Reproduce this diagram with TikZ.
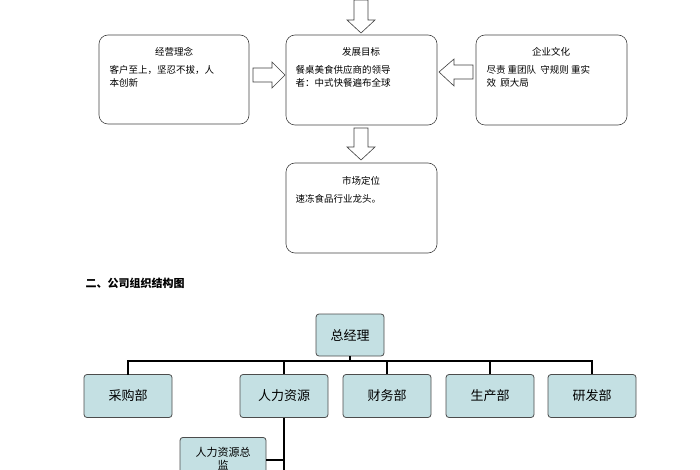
\documentclass[tikz,border=0pt]{standalone}
\usepackage{fontspec}
\setmainfont{Noto Sans CJK SC}
\definecolor{orgfill}{HTML}{C4E0E3}
\begin{document}
\begin{tikzpicture}[x=1pt,y=-1pt,
  rbox/.style={draw=black!75,line width=0.6pt,rounded corners=9pt},
  org/.style={draw=black!70,fill=orgfill,line width=0.8pt,rounded corners=3pt,font=\fontsize{13}{14}\selectfont},
  barrow/.style={draw=black!75,line width=0.6pt,fill=white},
  txt/.style={font=\fontsize{9.5}{13}\selectfont,anchor=north west,align=left}]
\useasboundingbox (0,0) rectangle (700,470);
\clip (0,0) rectangle (700,470);
% top flow boxes
\draw[rbox] (99,35) rectangle (249,124);
\draw[rbox] (286,35) rectangle (437,125);
\draw[rbox] (476,35) rectangle (627,125);
\draw[rbox] (286,163) rectangle (437,253);
\node (a) at (174,52) {\fontsize{9.5}{11}\selectfont 经营理念};
\node[txt] (a2) at (106,62) {客户至上，坚忍不拔，人\\本创新};
\node (b) at (361,52) {\fontsize{9.5}{11}\selectfont 发展目标};
\node[txt] (b2) at (292,62) {餐桌美食供应商的领导\\者：中式快餐遍布全球};
\node (c) at (551,52) {\fontsize{9.5}{11}\selectfont 企业文化};
\node[txt] (c2) at (483,62) {尽责\ 重团队\ \ 守规则\ 重实\\效\ \ 顾大局};
\node (d) at (361,181) {\fontsize{9.5}{11}\selectfont 市场定位};
\node[txt] (d2) at (292,191) {速冻食品行业龙头。};
% block arrows
\draw[barrow] (354,0)--(368,0)--(368,20)--(375,20)--(361,33)--(347,20)--(354,20)--cycle;
\draw[barrow] (354,128)--(368,128)--(368,147)--(375,147)--(361,160)--(347,147)--(354,147)--cycle;
\draw[barrow] (253,68)--(272,68)--(272,62)--(285,75)--(272,88)--(272,82)--(253,82)--cycle;
\draw[barrow] (473,65)--(454,65)--(454,59)--(439,72)--(454,86)--(454,79)--(473,79)--cycle;
% title
\node[anchor=west,font=\bfseries\fontsize{11}{12}\selectfont] (t) at (82,283) {二、公司组织结构图};
% org chart
\node[org,minimum width=68pt,minimum height=42pt] (gm) at (350,335) {总经理};
\node[org,minimum width=88pt,minimum height=43pt] (p1) at (128,396) {采购部};
\node[org,minimum width=88pt,minimum height=43pt] (p2) at (284,396) {人力资源};
\node[org,minimum width=88pt,minimum height=43pt] (p3) at (387,396) {财务部};
\node[org,minimum width=88pt,minimum height=43pt] (p4) at (490,396) {生产部};
\node[org,minimum width=88pt,minimum height=43pt] (p5) at (592,396) {研发部};
\node[org,font=\fontsize{11}{13}\selectfont,minimum width=86pt,text width=76pt,align=center,anchor=north,minimum height=42pt,inner sep=3pt] (hr) at (223,437) {人力资源总\\监};
\draw[line width=1.6pt] (gm.south) -- (350,361);
\draw[line width=1.6pt] (128,374.5) |- (592,361) -- (p5.north);
\foreach \n/\x in {p2/284,p3/387,p4/490}{\draw[line width=1.6pt] (\n.north) -- (\x,361);}
\draw[line width=1.6pt] (p2.south) -- (284,475);
\draw[line width=1.6pt] (hr.east|-0,460) -- (284,460);
\end{tikzpicture}
\end{document}
